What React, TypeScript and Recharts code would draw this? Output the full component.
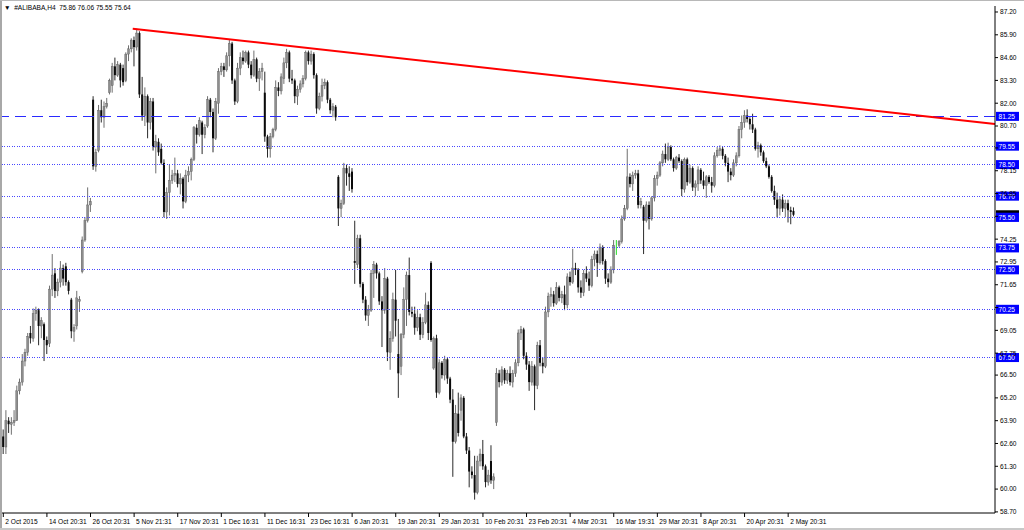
import React from 'react';
import { ComposedChart, Bar, XAxis, YAxis, ReferenceLine } from 'recharts';

type Candle = [number, number, number, number]; // open, high, low, close

const OCT_2015: Candle[] = [
  [63.0,63.4,62.0,62.4],[62.4,64.5,62.0,63.9],[63.9,64.1,63.2,63.7],[63.7,64.1,63.1,63.8],
  [63.8,64.5,63.6,63.9],[63.9,65.9,63.9,65.6],[65.6,66.3,65.4,66.1],[66.1,67.7,65.9,67.3],
  [67.3,68.0,67.0,67.8],[67.8,68.9,67.6,68.7],[68.9,69.3,68.3,68.6],[68.6,70.3,68.4,70.0],
  [70.0,70.4,69.6,70.2],[70.2,70.3,68.2,69.3],[69.3,69.8,68.6,69.6],[69.4,69.5,67.3,68.5],
  [68.5,68.7,67.7,68.2],[68.3,71.6,68.1,71.4],[71.4,73.4,71.0,72.2],[72.3,72.6,70.9,71.3],
  [71.3,72.0,71.0,71.8],[71.8,73.0,71.5,72.6],[72.6,72.8,71.6,72.0],[72.7,72.9,71.6,71.8],
  [71.8,71.9,71.1,71.3],[70.8,70.9,68.6,69.0],[69.0,69.4,68.4,69.2],[69.3,71.3,69.1,70.9],
  [70.7,71.0,70.1,70.8],[72.4,74.4,72.3,74.2],[74.2,75.5,74.1,75.3],[75.3,77.2,75.2,76.2],
  [76.2,76.6,75.8,76.4],[82.2,82.4,78.2,78.4],[78.4,79.4,78.1,79.2],[79.3,81.9,79.2,81.6],
  [81.6,82.2,80.9,81.2],[81.2,82.1,80.6,81.8],[81.8,82.3,81.7,82.0],[82.6,83.4,82.5,83.3],
  [83.0,84.3,82.6,84.1],[84.1,84.6,83.3,83.6],[83.6,84.4,83.5,84.2],[84.2,84.3,82.9,83.3],
];

const NOV_2015: Candle[] = [
  [84.0,84.2,83.0,83.2],[83.3,84.9,83.2,84.8],[84.8,85.3,84.4,85.1],[85.1,85.7,84.9,85.6],
  [85.6,85.8,84.1,85.2],[85.2,86.25,85.0,86.0],[86.0,86.1,82.3,82.5],[82.5,83.5,81.0,81.3],
  [81.3,82.9,80.7,82.4],[82.4,82.5,80.0,80.9],[80.9,82.3,80.5,82.1],[82.1,82.3,79.3,79.5],
  [79.5,80.2,78.0,79.8],[79.8,80.0,79.0,79.2],[79.4,79.7,78.5,78.6],[78.6,78.8,75.5,75.8],
  [75.8,77.2,75.4,76.9],[76.9,78.5,75.6,77.6],[77.6,78.2,77.4,77.9],[77.9,78.9,77.5,78.0],
  [78.0,78.2,77.2,77.4],[77.4,78.0,76.8,77.7],[77.7,77.8,76.0,76.4],[76.4,78.2,76.3,77.9],
  [77.9,78.4,77.5,78.1],[78.1,78.9,77.6,78.8],[78.8,80.7,78.7,80.6],[80.6,80.8,79.7,80.2],
  [80.2,81.2,80.1,81.0],[80.9,81.0,79.1,80.2],[80.2,80.8,80.0,80.6],[80.7,82.4,80.6,82.2],
  [82.2,82.3,81.2,81.5],[81.5,81.7,79.2,80.0],[80.0,82.3,79.9,82.1],[82.0,84.0,81.4,83.8],
  [83.8,84.3,83.6,84.1],[84.1,84.3,83.5,83.9],[83.9,84.9,83.8,84.7],[84.7,85.6,84.1,85.4],
  [85.4,85.5,83.1,83.3],[83.3,83.4,81.9,82.1],
];

const DEC_2015: Candle[] = [
  [82.1,84.3,82.0,84.0],[84.0,84.9,83.6,84.6],[84.6,85.0,84.2,84.4],[84.4,85.0,84.3,84.9],
  [84.9,85.0,84.0,84.2],[84.2,84.4,83.4,83.6],[83.6,85.0,83.5,84.5],[84.5,84.6,83.2,83.4],
  [83.4,84.0,82.7,83.8],[83.8,84.3,83.3,84.0],[82.6,83.8,79.8,80.1],[80.1,80.2,78.9,79.4],
  [79.4,80.3,78.9,80.1],[80.1,80.6,80.0,80.5],[80.5,83.3,80.4,82.9],[82.9,83.2,82.4,82.7],
  [82.7,83.7,82.5,83.5],[83.4,84.6,83.1,84.3],[84.3,85.1,84.0,84.9],[84.9,85.0,83.2,83.4],
  [83.4,83.9,83.1,83.3],[83.3,83.4,82.0,82.4],[82.4,83.0,81.9,82.8],[82.8,83.3,82.6,83.1],
  [83.1,83.6,82.9,83.4],[83.4,85.0,83.3,84.9],[84.9,85.0,84.2,84.4],[84.4,85.0,84.2,84.8],
  [84.8,84.9,83.4,83.6],[83.6,83.7,81.4,81.7],[81.7,82.6,81.6,82.4],[82.4,83.4,82.1,83.0],
  [83.0,83.4,82.8,83.2],[83.2,83.3,82.0,82.2],[82.2,82.3,81.4,81.6],[81.6,82.0,81.2,81.8],
  [81.8,81.9,81.0,81.2],
];

const JAN_2016: Candle[] = [
  [77.8,77.9,75.0,76.0],[76.0,76.5,75.5,76.3],[76.3,78.6,76.2,78.3],[78.3,78.5,77.3,78.0],
  [78.0,78.4,77.0,77.8],[78.1,78.3,76.9,77.1],[73.0,75.3,71.7,72.9],[72.8,74.5,72.6,74.3],
  [74.3,74.5,71.5,71.7],[71.7,71.8,70.6,70.8],[70.8,71.0,69.6,69.9],[69.9,70.5,69.3,70.2],
  [70.2,72.5,70.1,72.3],[72.3,73.0,70.9,72.8],[72.8,72.9,72.0,72.3],[72.3,72.4,70.5,70.7],
  [70.7,71.0,68.1,70.2],[70.2,72.6,70.0,72.0],[72.0,72.1,67.3,67.8],[67.8,69.0,66.8,68.6],
  [68.6,71.2,68.4,70.8],[70.8,72.5,68.7,69.6],[67.7,69.7,65.2,66.6],[67.0,68.9,66.5,68.8],
  [68.8,71.5,68.6,70.8],[70.8,72.4,69.3,72.2],[72.2,73.2,69.9,70.1],[70.1,70.4,69.8,70.0],
  [70.0,70.4,68.8,69.2],[69.2,70.2,69.0,69.8],[69.8,70.0,68.5,68.8],[68.8,69.8,68.6,69.5],
  [69.5,71.2,69.4,70.5],[70.5,70.7,68.5,68.9],[72.9,73.0,68.4,68.5],[66.9,68.7,66.8,68.6],
  [68.6,68.8,65.2,65.5],[65.5,67.4,65.4,67.2],[67.2,67.3,66.3,66.5],[66.5,67.6,66.2,67.4],
  [67.4,67.5,66.0,66.3],
];

const FEB_2016: Candle[] = [
  [66.3,66.4,64.9,65.1],[65.1,65.7,60.7,62.7],[62.7,64.8,62.6,64.3],[64.3,65.5,63.0,63.2],
  [64.5,65.4,63.9,65.2],[65.2,65.3,62.9,63.0],[63.0,63.2,62.0,62.2],[62.2,62.4,60.1,61.0],
  [61.0,61.3,60.6,60.8],[60.8,61.9,59.4,59.8],[59.8,61.9,59.7,61.6],[61.6,62.3,61.3,62.0],
  [62.0,62.8,61.1,61.3],[61.3,61.4,60.1,60.4],[60.4,61.1,60.2,60.8],[61.6,62.5,60.3,60.5],
  [60.5,60.9,60.0,60.7],[63.8,66.9,63.6,66.6],[66.6,66.8,65.8,66.1],[66.1,67.0,65.9,66.8],
  [66.8,66.9,66.0,66.2],[66.2,66.8,66.0,66.6],[66.6,67.0,65.9,66.1],[66.1,66.8,65.8,66.6],
  [66.6,67.4,66.4,67.2],[67.2,69.1,67.0,68.9],[68.9,69.3,68.5,69.1],[69.1,69.2,67.4,67.6],
  [67.6,67.8,66.8,67.1],[67.1,67.3,65.6,66.1],[66.1,67.3,65.9,67.0],[67.0,67.1,64.5,65.9],
  [65.9,68.4,65.7,68.2],[68.2,68.5,67.0,67.2],[67.2,67.5,66.6,67.0],[67.0,70.4,66.9,70.1],
  [70.1,71.2,69.8,71.0],[71.0,71.5,70.4,71.1],[71.1,71.3,70.4,70.6],[70.6,71.8,70.5,71.5],
];

const MAR_2016: Candle[] = [
  [71.5,71.6,70.7,70.9],[70.9,71.3,70.6,71.1],[71.1,71.6,70.2,70.5],[70.5,72.3,70.3,72.1],
  [72.1,72.4,71.6,71.8],[71.8,73.7,71.7,72.6],[72.6,72.9,72.2,72.5],[72.5,72.6,71.2,71.5],
  [71.5,71.9,70.9,71.2],[71.2,72.5,71.0,72.3],[72.3,72.7,71.8,72.0],[72.0,72.4,71.3,71.6],
  [71.6,73.3,71.5,73.1],[73.1,73.6,72.7,73.4],[73.4,73.6,72.1,72.9],[72.9,74.0,72.8,73.8],
  [73.8,73.9,72.8,73.0],[73.0,73.1,71.7,72.0],[72.0,72.3,71.5,71.8],[71.8,72.7,71.7,72.5],
  [72.5,74.2,72.3,73.9],[73.9,74.2,73.35,73.9],[73.9,74.2,73.8,74.1],[74.1,75.6,74.0,75.4],
  [75.4,76.2,75.3,76.0],[76.0,79.4,75.9,77.8],[77.8,78.0,77.2,77.4],[77.4,78.1,77.0,77.9],
  [77.9,78.2,77.7,78.0],[78.0,78.2,76.0,76.2],[76.2,76.6,76.0,76.4],[76.1,76.2,73.4,75.3],
  [75.3,76.4,75.2,76.2],[76.2,76.4,74.8,75.4],[75.4,76.7,75.3,76.6],[76.6,77.9,76.4,77.7],
  [77.7,78.1,77.3,77.9],[77.9,78.7,77.8,78.6],[78.6,79.3,78.4,79.1],[79.1,79.7,78.6,78.8],
  [78.8,79.75,78.7,79.5],[79.5,79.6,78.7,78.8],[78.8,78.9,78.1,78.3],[78.3,79.0,78.2,78.9],
  [78.9,79.1,78.6,78.7],
];

const APR_2016: Candle[] = [
  [78.7,78.8,76.7,77.1],[77.1,78.9,76.9,78.8],[78.8,78.9,77.3,77.5],[77.5,78.5,77.4,78.3],
  [78.3,78.4,77.0,77.2],[77.2,77.6,76.7,77.4],[77.4,78.4,77.0,78.2],[78.2,78.3,77.4,77.6],
  [77.6,78.1,77.1,77.3],[77.3,77.9,76.6,77.8],[77.8,77.9,77.4,77.5],[77.5,77.8,76.9,77.3],
  [77.3,79.2,77.2,79.0],[79.0,79.5,78.9,79.3],[79.3,79.6,79.0,79.4],[79.4,79.5,78.8,79.0],
  [79.0,79.1,78.4,78.6],[78.6,78.9,77.5,78.1],[78.1,78.3,77.6,77.9],[77.9,78.8,77.8,78.6],
  [78.6,79.2,78.4,79.0],[79.0,80.7,78.9,80.5],[80.5,81.3,80.0,80.9],[80.9,81.6,80.6,81.3],
  [81.3,81.65,80.9,81.1],[81.1,81.2,80.5,80.8],[80.8,81.4,80.3,80.5],[80.5,80.6,79.3,79.4],
  [79.4,79.8,78.9,79.6],[79.6,79.7,79.0,79.2],[79.2,79.3,78.6,78.7],[78.7,78.9,78.3,78.4],
  [78.4,78.5,77.7,77.8],[77.8,77.9,76.9,77.0],[77.0,77.3,76.2,76.5],[76.5,76.9,75.5,76.0],
  [76.0,76.7,75.6,76.5],[76.5,76.8,75.8,76.0],[76.0,76.5,75.5,76.3],[76.3,76.5,75.2,75.9],
  [75.9,76.1,75.1,75.8],[75.86,76.06,75.55,75.64],
];

const dateTickIndex = [0, 16, 32, 48, 64, 80, 96, 112, 128, 144, 160, 176, 192, 208, 224, 240, 256, 272, 288];
const dateTickLabels = [
  '2 Oct 2015', '14 Oct 20:31', '26 Oct 20:31', '5 Nov 21:31', '17 Nov 20:31', '1 Dec 16:31',
  '11 Dec 16:31', '23 Dec 16:31', '6 Jan 20:31', '19 Jan 20:31', '29 Jan 20:31', '10 Feb 20:31',
  '23 Feb 20:31', '4 Mar 20:31', '16 Mar 19:31', '29 Mar 20:31', '8 Apr 20:31', '20 Apr 20:31', '2 May 20:31',
];

const priceTicks = [
  87.20, 85.90, 84.60, 83.30, 82.00, 80.70, 79.45, 78.15, 76.85, 75.55, 74.25, 72.95,
  71.65, 70.35, 69.05, 67.75, 66.50, 65.20, 63.90, 62.60, 61.30, 60.00, 58.70,
];
// tick values whose text is fully covered by a level tag in the reference
const coveredPriceTicks = [79.45, 75.55, 70.35];

const supportLevels = [79.55, 78.50, 76.70, 75.50, 73.75, 72.50, 70.25, 67.50];
const keyLevel = 81.25;
const lastPrice = 75.64;
const trendStart = { x: 47.5, y: 86.25 };
const trendEnd = { x: 363.9, y: 80.81 };

const header = { symbol: '#ALIBABA,H4', o: '75.86', h: '76.06', l: '75.55', c: '75.64' };

const candles: Candle[] = [
  ...OCT_2015, ...NOV_2015, ...DEC_2015, ...JAN_2016, ...FEB_2016, ...MAR_2016, ...APR_2016,
];
const data = candles.map(([o, h, l, c], i) => ({ i, o, h, l, c, range: [l, h] }));

const FONT = '"Liberation Sans", Arial, sans-serif';
const FS = 6.6;

const CandleShape = (props: any) => {
  const { x, y, width, height, payload } = props;
  if (!payload) return null;
  const { o, h, l, c } = payload;
  const cx = x + width / 2;
  const span = h - l;
  const py = (v: number) => (span > 0 ? y + ((h - v) / span) * height : y);
  const top = py(Math.max(o, c));
  const bot = py(Math.min(o, c));
  const doji = o === c;
  const bull = c > o;
  const wick = doji ? '#22dd22' : bull ? '#6f6f6f' : '#2a2a2a';
  return (
    <g>
      <line x1={cx} x2={cx} y1={y} y2={y + height} stroke={wick} strokeWidth={1} />
      {!doji && (
        <rect
          x={cx - 1}
          y={top}
          width={2}
          height={Math.max(1, bot - top)}
          fill={bull ? '#8e8e8e' : '#0a0a0a'}
          stroke={bull ? '#5a5a5a' : 'none'}
          strokeWidth={bull ? 0.4 : 0}
        />
      )}
    </g>
  );
};

const PriceTag = (props: any) => {
  const { viewBox, text, bg } = props;
  if (!viewBox) return null;
  const x = viewBox.x + viewBox.width + 1;
  const y = viewBox.y;
  return (
    <g>
      <rect x={x} y={y - 4.5} width={23} height={9} fill={bg} />
      {text ? (
        <text x={x + 2.5} y={y + 2.4} fill="#ffffff" fontSize={FS} fontFamily={FONT}>
          {text}
        </text>
      ) : null}
    </g>
  );
};

const YTick = (props: any) => {
  const { x, y, payload } = props;
  const covered = coveredPriceTicks.includes(payload.value);
  return (
    <g>
      <line x1={x} x2={x + 3} y1={y} y2={y} stroke="#000" />
      {!covered && (
        <text x={x + 5} y={y + 2.4} fontSize={FS} fontFamily={FONT} fill="#000">
          {Number(payload.value).toFixed(2)}
        </text>
      )}
    </g>
  );
};

const XTick = (props: any) => {
  const { x, y, payload } = props;
  const k = dateTickIndex.indexOf(payload.value);
  return (
    <g>
      <line x1={x} x2={x} y1={y} y2={y + 4} stroke="#000" />
      <text x={x + 2} y={y + 10.5} fontSize={FS} fontFamily={FONT} fill="#000">
        {k >= 0 ? dateTickLabels[k] : ''}
      </text>
    </g>
  );
};

export default function App() {
  return (
    <div
      style={{
        position: 'absolute',
        left: 0,
        top: 0,
        width: 1024,
        height: 530,
        background: '#ffffff',
        overflow: 'hidden',
        fontFamily: FONT,
      }}
    >
      <div style={{ position: 'absolute', left: 0, top: 0, width: 2, height: 530, background: '#a8a8a8' }} />
      <div style={{ position: 'absolute', left: 0, top: 0, width: 1024, height: 1, background: '#b8b8b8' }} />
      <div style={{ position: 'absolute', left: 0, top: 528, width: 1024, height: 2, background: '#c8c8c8' }} />
      <ComposedChart
        width={1024}
        height={530}
        data={data}
        margin={{ top: 6, left: 2, right: 0, bottom: 0 }}
      >
        <XAxis
          dataKey="i"
          type="number"
          domain={[-0.48, 363.9]}
          allowDataOverflow
          ticks={dateTickIndex}
          interval={0}
          height={17}
          axisLine={{ stroke: '#000' }}
          tickLine={false}
          tickSize={0}
          tickMargin={0}
          tick={<XTick />}
        />
        <YAxis
          orientation="right"
          type="number"
          domain={[58.637, 87.542]}
          allowDataOverflow
          ticks={priceTicks}
          interval={0}
          width={29}
          axisLine={{ stroke: '#000' }}
          tickLine={false}
          tickSize={0}
          tickMargin={0}
          tick={<YTick />}
        />
        {supportLevels.map((v) => (
          <ReferenceLine
            key={v}
            y={v}
            stroke="#4747ff"
            strokeWidth={1}
            strokeDasharray="1 1.5"
            shapeRendering="crispEdges"
            label={<PriceTag text={v === 75.5 ? '' : v.toFixed(2)} bg="#0000ff" />}
          />
        ))}
        <ReferenceLine
          y={keyLevel}
          stroke="#2a2aff"
          strokeWidth={1}
          strokeDasharray="11 6"
          shapeRendering="crispEdges"
          label={<PriceTag text={keyLevel.toFixed(2)} bg="#0000ff" />}
        />
        <Bar dataKey="range" barSize={3} isAnimationActive={false} shape={<CandleShape />} />
        <ReferenceLine
          segment={[trendStart, trendEnd]}
          stroke="#ff0000"
          strokeWidth={2}
        />
        <ReferenceLine
          y={lastPrice}
          stroke="none"
          strokeOpacity={0}
          label={<PriceTag text="" bg="#000000" />}
        />
        <ReferenceLine
          y={75.5}
          stroke="none"
          strokeOpacity={0}
          label={<PriceTag text="75.50" bg="#0000ff" />}
        />
      </ComposedChart>
      <div
        style={{
          position: 'absolute',
          left: 4,
          top: 3,
          fontSize: FS,
          fontFamily: FONT,
          color: '#000',
          whiteSpace: 'pre',
          lineHeight: '9px',
        }}
      >
        {'\u25BC  ' + header.symbol + '  ' + header.o + ' ' + header.h + ' ' + header.l + ' ' + header.c}
      </div>
    </div>
  );
}
